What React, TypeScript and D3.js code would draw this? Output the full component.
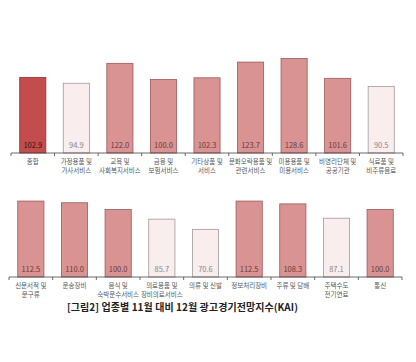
import React from 'react';
import * as d3 from 'd3';

// top panel
const topCategories = ['종합', '가정용품 및|가사서비스', '교육 및|사회복지서비스', '금융 및|보험서비스', '기타상품 및|서비스', '문화오락용품 및|관련서비스', '미용용품 및|미용서비스', '비영리단체 및|공공기관', '식료품 및|비주류음료'];
const topValues = [102.9, 94.9, 122.0, 100.0, 102.3, 123.7, 128.6, 101.6, 90.5];

// bottom panel
const bottomCategories = ['신문서적 및|문구류', '운송장비', '음식 및|숙박운수서비스', '의료용품 및|장비의료서비스', '의류 및 신발', '정보처리장비', '주류 및 담배', '주택수도|전기연료', '통신'];
const bottomValues = [112.5, 110.0, 100.0, 85.7, 70.6, 112.5, 108.3, 87.1, 100.0];

const title = '[그림2] 업종별 11월 대비 12월 광고경기전망지수(KAI)';

const font = "'Noto Sans CJK KR', 'Noto Sans', sans-serif";

const fillFor = (v: number, i: number, first: boolean) => {
  if (first && i === 0) return { fill: '#c24d4c', stroke: '#8e3434', text: '#2a1515' };
  if (v < 100) return { fill: '#f9eded', stroke: '#a09a9a', text: '#888' };
  return { fill: '#d99393', stroke: '#9c5a5a', text: '#6a3a3a' };
};

type PanelProps = {
  categories: string[];
  values: number[];
  x0: number;
  x1: number;
  baseY: number;
  pxPerUnit: number;
  first: boolean;
};

const Panel = ({ categories, values, x0, x1, baseY, pxPerUnit, first }: PanelProps) => {
  const x = d3.scaleBand<string>().domain(categories).range([x0, x1]).paddingInner(0.4).paddingOuter(0.2);
  const y = d3.scaleLinear().domain([0, 100]).range([baseY, baseY - 100 * pxPerUnit]);
  const step = x.step();
  const ticks = d3.range(categories.length + 1).map((i) => x0 + i * step);
  return (
    <g>
      {values.map((v, i) => {
        const c = fillFor(v, i, first);
        const cat = categories[i];
        const bx = x(cat)!;
        return (
          <g key={cat}>
            <rect x={bx} y={y(v)} width={x.bandwidth()} height={baseY - y(v)} fill={c.fill} stroke={c.stroke} strokeWidth={0.8} />
            <text x={bx + x.bandwidth() / 2} y={baseY - 5} textAnchor="middle" fontSize={7.5} fill={c.text} fontFamily={font}>
              {v.toFixed(1)}
            </text>
            {cat.split('|').map((line, j) => (
              <text key={j} x={bx + x.bandwidth() / 2} y={baseY + 11 + j * 9} textAnchor="middle" fontSize={6.5} fill="#555" fontFamily={font}>
                {line}
              </text>
            ))}
          </g>
        );
      })}
      <line x1={x0} x2={x1} y1={baseY} y2={baseY} stroke="#444" strokeWidth={0.8} />
      {ticks.map((t, i) => (
        <line key={i} x1={t} x2={t} y1={baseY} y2={baseY + 3} stroke="#444" strokeWidth={0.8} />
      ))}
    </g>
  );
};

const App = () => (
  <svg width={416} height={362} style={{ position: 'absolute', left: 0, top: 0, background: '#fff' }}>
    <rect width={416} height={362} fill="#fff" />
    <Panel categories={topCategories} values={topValues} x0={11} x1={403} baseY={153} pxPerUnit={0.735} first />
    <Panel categories={bottomCategories} values={bottomValues} x0={9} x1={402} baseY={277} pxPerUnit={0.675} first={false} />
    <text x={67} y={311} fontSize={10} fontWeight="bold" fill="#222" fontFamily={font} textLength={231} lengthAdjust="spacing">
      {title}
    </text>
  </svg>
);

export default App;
